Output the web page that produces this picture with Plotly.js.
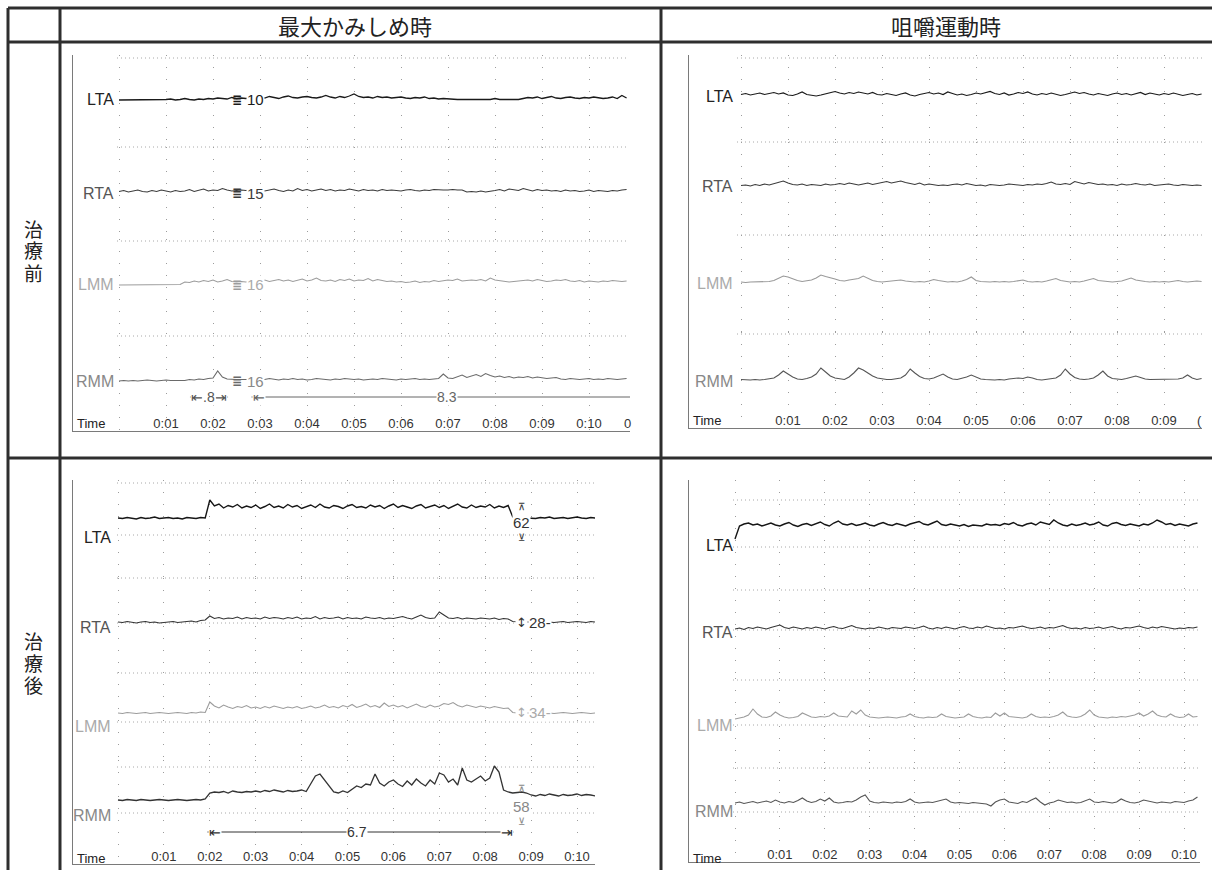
<!DOCTYPE html>
<html><head><meta charset="utf-8">
<script src="https://cdn.plot.ly/plotly-3.0.1.min.js"></script>
<style>html,body{margin:0;padding:0;background:#fff;}#chart{width:1212px;height:870px;}</style>
</head><body><div id="chart"></div>
<script>
// ================= DATA =================
const COLUMN_TITLES = ['最大かみしめ時', '咀嚼運動時'];
const ROW_TITLES = ['治療前', '治療後'];
const CHANNELS = ['LTA', 'RTA', 'LMM', 'RMM'];
const TICK_VALUES = [0, 1, 2, 3, 4, 5, 6, 7, 8, 9, 10];
const TICK_LABELS = ['', '0:01', '0:02', '0:03', '0:04', '0:05', '0:06', '0:07', '0:08', '0:09', '0:10'];
const SAMPLE_STEP = 0.1; // seconds between samples

// 最大かみしめ時・治療前 (µV)
const CLENCH_BEFORE_LTA = [0,0,0,0,0,0,0,0,0,0, 1,2,0,1,3,1,0,2,1,3,2,4,3,2,5, 3,4,3,4,3,
  6,4,7,5,3,6,8,5,4,6,7,5,4,6,9,6,4,7,5,8,12,7,5,6,4,7,5,6,4,5,6,4,3,5,4,6,3,4,2,3,2,
  1,1,1,1,1,1,1, 2,1,3,1,1,1,2,1, 3,5,4,6,3,5,7,4,3,5,6,4,3,5,4,6,5,3,4,6,3,9,4];
const CLENCH_BEFORE_RTA = [3,5,2,4,6,3,2,5,3,6,4,2,5,3,4,7,3,5,8,4,6,5,9,6,4, 5,6,5,6,5,
  7,4,6,8,5,3,6,4,9,5,7,4,6,8,5,7,4,6,5,8,6,4,7,5,6,4,7,5,6,5,4,6,7,5,4,6,5,7,6,
  6,6,7,6,6, 2,3,2,4,2,3, 5,7,4,8,6,5,9,6,4,7,5,6,4,5,3,6,4,5,3,4,6,3,5,4,3,5,4,6,7];
const CLENCH_BEFORE_LMM = [0,0,0,0,0,0,0,0,0,0,0,1,0,1, 6,5,8,6,9,7,10,6,8,11,7, 6,7,6,7,6,
  8,10,7,9,11,8,10,7,9,12, 8,10,14,9,8,10,7,11,9,12, 8,10,9,13,8,11,9,7,8,6, 7,5,6,8,5,7,6,9,7,8,
  10,9,12,8,9,10,9,11,8,14, 10,9,8,6,7,8,9,10,8,11, 9,7,8,10,9,11,8,7,9,6, 8,7,6,8,7,9,8,7,8];
const CLENCH_BEFORE_RMM = [0,1,0,1,0,1,2,1,0,1,2,1,1,2,1, 3,2,4,3,5,6,20,8,4,3, 3,3,3,3,3,
  4,3,5,4,2,4,3,5,3,4,2,3,5,4,3,2,4,3,5,4,3,4,2,3,4,3,5,4,3,2,4,3,4,5,3,4,3,4,5,
  14,6,5,8,12,7,10,13,9,15,11,8,10,7,9, 6,8,7,9,6,8,7,5,6,7, 4,3,5,4,3,4,5,3,4,3,5,4,3,4,5];

// 咀嚼運動時・治療前 (µV)
const CHEW_BEFORE_LTA = [5,7,4,6,8,5,7,9,6,8, 4,3,6,10,5,3,2,4,6,9, 11,8,6,9,7,10,8,6,9,5, 4,7,5,3,6,8,4,2,5,7,
  9,6,8,5,10,7,4,6,3,5, 8,6,9,11,7,5,8,4,6,9, 7,10,6,4,7,5,8,6,3,5, 8,10,7,9,6,4,7,5,3,6,
  8,5,7,4,6,9,5,8,6,4, 7,5,8,6,3,5,7,4,6];
const CHEW_BEFORE_RTA = [3,4,2,5,3,6,4,7,9,12, 8,5,4,6,3,5,4,3,6,4, 5,7,5,8,6,4,6,8,5,7, 9,11,8,10,12,9,7,5,8,4,
  6,5,3,4,3,5,6,4,7,5, 3,4,2,5,4,3,4,6,5,4, 3,5,4,6,5,7,10,6,5,7, 5,11,8,6,9,7,5,6,4,5,
  3,6,4,5,7,5,4,6,3,4, 5,6,4,3,5,4,3,4,3];
const CHEW_BEFORE_LMM = [2,1,2,2,3,2,3,5,9,14, 12,8,5,3,4,6,10,16,13,11, 8,5,4,6,7,9,14,10,5,3, 2,3,4,5,6,4,3,2,3,2,
  4,7,5,3,2,3,2,4,7,12, 5,3,2,2,3,2,3,2,3,4, 6,3,2,3,2,4,6,9,5,3, 2,3,2,4,6,9,5,4,3,2,
  3,4,7,10,6,4,3,2,3,2, 3,2,4,5,3,2,3,4,3];
const CHEW_BEFORE_RMM = [3,2,2,3,2,3,4,6,12,20, 14,8,4,3,5,8,14,26,18,10, 6,4,3,8,16,26,22,16,10,6, 4,3,3,4,6,12,24,16,9,5,
  4,6,10,14,8,4,3,5,8,12, 8,4,3,2,2,3,2,4,5,6, 5,8,6,3,2,3,4,6,12,24, 14,7,4,3,4,6,12,20,10,5,
  4,3,5,7,10,7,4,3,3,4, 3,4,3,4,6,12,6,3,5];

// 最大かみしめ時・治療後 (µV)
const CLENCH_AFTER_LTA = [38,37,39,38,36,39,37,38,40,37, 38,39,37,38,36,39,38,37,39,38, 74,62,66,58,63,60,65,58,62,59,
  64,57,61,66,59,62,58,65,60,63, 57,61,64,59,66,60,58,63,61,57, 62,65,59,61,58,64,60,63,57,62,
  66,59,63,60,57,62,65,58,61,64, 59,63,57,61,66,60,58,64,59,62, 60,65,58,62,59,63,40,38,39,38,
  38,37,39,38,40,37,38,39,37,38, 40,38,37,39,38];
const CLENCH_AFTER_RTA = [10,9,11,10,8,10,11,9,10,8, 9,10,11,9,10,11,12,10,13,14, 22,17,19,16,18,17,20,16,19,17,
  18,16,20,17,19,18,16,19,17,20, 16,18,17,21,16,19,17,18,20,16, 19,17,18,16,20,18,17,19,16,18,
  17,19,21,18,16,20,24,19,17,18, 30,24,18,17,19,16,18,17,16,18, 17,16,18,15,17,16,11,10,10,10,
  10,10,10,11,10,9,10,11,9,10, 11,10,9,11,10];
const CLENCH_AFTER_LMM = [26,25,27,26,25,26,27,25,26,27, 26,25,26,27,26,25,27,26,28,27, 48,40,36,42,38,35,39,37,41,36,
  38,35,39,36,40,37,35,38,36,39, 35,37,40,36,38,42,37,39,36,41, 38,43,37,40,44,38,41,37,46,39,
  42,38,41,36,40,44,39,37,42,38, 40,45,43,47,41,38,42,39,37,40, 38,36,39,37,35,36,27,26,26,26,
  26,26,26,27,26,25,26,27,26,25, 26,27,26,25,26];
const CLENCH_AFTER_RMM = [30,29,31,30,29,31,30,29,30,31, 30,29,30,31,30,29,30,31,30,32, 44,46,45,47,44,48,46,45,47,46,
  48,46,49,47,50,48,46,49,47,48, 50,47,62,78,82,70,56,46,44,48, 45,52,58,55,62,60,82,64,58,66,
  70,62,57,68,60,72,64,58,70,62, 84,80,66,72,60,94,70,66,72,78, 68,74,98,86,50,46,44,45,46,44,
  40,38,41,39,42,40,38,41,39,40, 42,39,41,40,38];

// 咀嚼運動時・治療後 (µV)
const CHEW_AFTER_LTA = [12,38,42,44,40,42,38,41,44,40, 38,42,45,40,37,41,43,39,42,46, 41,38,44,48,42,40,43,39,41,44,
  40,38,42,45,41,39,43,40,38,42, 44,47,42,40,44,48,41,39,42,40, 38,41,37,40,39,38,42,40,41,39,
  43,41,45,40,38,42,44,40,46,43, 41,50,44,40,38,42,39,41,44,40, 42,46,40,38,43,45,41,39,42,40,
  38,42,40,44,50,46,41,43,39,42, 40,38,42,44];
const CHEW_AFTER_RTA = [6,8,5,9,7,10,8,6,9,12, 14,9,7,10,8,6,9,7,10,8, 6,9,11,8,7,10,13,9,8,6, 8,7,10,8,6,9,8,7,10,8,
  7,9,12,8,6,9,7,10,8,6, 9,11,8,7,10,8,12,9,7,8, 6,9,8,10,12,9,7,8,10,7, 9,8,11,13,9,7,8,6,9,7,
  8,10,7,9,11,8,6,9,8,10, 12,9,7,10,8,11,9,7,6,8, 7,9,8,10];
const CHEW_AFTER_LMM = [12,14,16,20,32,22,16,15,18,26, 20,16,14,15,17,24,20,16,15,17, 16,18,24,18,17,16,28,22,30,20,
  16,15,14,15,16,15,14,16,17,22, 17,15,14,16,15,16,22,17,15,14, 15,16,22,17,15,14,16,15,24,18,
  24,17,16,15,14,16,22,17,15,16, 15,17,20,26,18,16,15,17,22,30, 20,16,15,14,16,15,17,16,18,20,
  24,18,22,28,20,17,16,22,17,15, 16,22,16,17];
const CHEW_AFTER_RMM = [16,18,15,17,19,16,18,20,17,22, 18,16,19,17,21,26,20,17,19,24, 20,26,18,16,17,19,18,22,28,32,
  20,17,16,18,17,16,18,17,19,24, 18,16,17,18,17,19,22,24,18,16, 17,16,15,17,16,15,14,10,18,22,
  24,18,17,15,19,17,22,26,18,12, 16,18,22,19,17,18,16,17,20,24, 18,17,19,17,16,18,24,20,17,16,
  18,22,20,17,16,18,17,16,19,18, 17,20,22,28];

// numeric annotations
const CLENCH_BEFORE_MEAN = ['10', '15', '16', '16'];
const CLENCH_AFTER_MEAN = ['62', '28', '34', '58'];
const BEFORE_SHORT_INTERVAL = [1.51, 2.32];   // ".8"
const BEFORE_LONG_INTERVAL_START = 2.82;      // "8.3"
const AFTER_INTERVAL = [1.95, 8.62];          // "6.7"

// ================= LAYOUT GEOMETRY (pixels) =================
const W = 1212, H = 870, UV_PER_PX = 2;
const px = v => v / W, py = v => 1 - v / H;
const DARK = '#222', FONT = 'Liberation Sans, Arial, sans-serif', CJK = 'Noto Sans CJK JP, sans-serif';
const NARROW = 'Liberation Sans Narrow, Liberation Sans, Arial, sans-serif';

const PANELS = [
  { series: [CLENCH_BEFORE_LTA, CLENCH_BEFORE_RTA, CLENCH_BEFORE_LMM, CLENCH_BEFORE_RMM],
    x0: 73, x1: 630, t0: 119, pps: 47, edges: [55, 147, 239, 333, 431], zeros: [100, 193, 285, 381],
    labelRight: 116, timeY: 423, dots: [58, 147, 241, 336], dotX: [117, 628],
    colors: ['#1a1a1a', '#3a3a3a', '#9c9c9c', '#6a6a6a'], widths: [1.3, 1.1, 1.1, 1.1] },
  { series: [CHEW_BEFORE_LTA, CHEW_BEFORE_RTA, CHEW_BEFORE_LMM, CHEW_BEFORE_RMM],
    x0: 689, x1: 1202, t0: 741, pps: 47, edges: [55, 142, 235, 332, 428], zeros: [97, 187, 283, 381],
    labelRight: 735, timeY: 420, dots: [58, 142, 235, 334], dotX: [737, 1202],
    colors: ['#1a1a1a', '#3a3a3a', '#999999', '#555555'], widths: [1.2, 1.1, 1.1, 1.1] },
  { series: [CLENCH_AFTER_LTA, CLENCH_AFTER_RTA, CLENCH_AFTER_LMM, CLENCH_AFTER_RMM],
    x0: 73, x1: 595, t0: 118, pps: 45.9, edges: [480, 578, 672, 760, 864], zeros: [537, 627, 726, 815],
    labelRight: 113, timeY: 858, dots: [483, 535, 578, 623, 673, 722, 767, 813], dotX: [117, 595],
    colors: ['#161616', '#333333', '#9c9c9c', '#333333'], widths: [1.4, 1.1, 1.1, 1.3] },
  { series: [CHEW_AFTER_LTA, CHEW_AFTER_RTA, CHEW_AFTER_LMM, CHEW_AFTER_RMM],
    x0: 689, x1: 1200, t0: 735, pps: 44.9, edges: [480, 588, 678, 768, 862], zeros: [545, 632, 725, 811],
    labelRight: 735, timeY: 858, dots: [500, 547, 590, 630, 680, 725, 768, 812], dotX: [733, 1200],
    colors: ['#161616', '#333333', '#9c9c9c', '#555555'], widths: [1.4, 1.1, 1.1, 1.1] }
];
const LABEL_COLORS = ['#222', '#555', '#aaa', '#888'];

const axId = (kind, n) => n === 1 ? kind : kind + n;
const axKey = (kind, n) => (kind === 'x' ? 'xaxis' : 'yaxis') + (n === 1 ? '' : n);

const traces = [];
const layout = {
  width: W, height: H, margin: { l: 0, r: 0, t: 0, b: 0 },
  paper_bgcolor: '#fff', plot_bgcolor: 'rgba(0,0,0,0)',
  font: { family: FONT, color: DARK }, showlegend: false,
  shapes: [], annotations: []
};

PANELS.forEach((p, pi) => {
  const xn = pi + 1, xa = axId('x', xn);
  const rmmY = pi * 4 + 4;
  p.series.forEach((vals, ci) => {
    const yn = pi * 4 + ci + 1, ya = axId('y', yn);
    traces.push({
      type: 'scatter', mode: 'lines', xaxis: xa, yaxis: ya,
      x: vals.map((_, i) => +(i * SAMPLE_STEP).toFixed(2)), y: vals,
      line: { color: p.colors[ci], width: p.widths[ci], shape: 'linear' },
      hoverinfo: 'skip', showlegend: false
    });
    layout[axKey('y', yn)] = {
      domain: [py(p.edges[ci + 1]), py(p.edges[ci])],
      range: [-(p.edges[ci + 1] - p.zeros[ci]) * UV_PER_PX, (p.zeros[ci] - p.edges[ci]) * UV_PER_PX],
      anchor: xa, showgrid: false, zeroline: false, showticklabels: false, ticks: '',
      showline: true, linecolor: '#7a7a7a', linewidth: 1.5, fixedrange: true
    };
    layout.annotations.push({
      xref: 'paper', yref: ya, x: px(p.labelRight), y: 0, xanchor: 'right', yanchor: 'middle',
      text: CHANNELS[ci], showarrow: false, font: { size: 16, color: LABEL_COLORS[ci], family: FONT }
    });
  });
  layout[axKey('x', xn)] = {
    domain: [px(p.x0), px(p.x1)], range: [(p.x0 - p.t0) / p.pps, (p.x1 - p.t0) / p.pps],
    anchor: axId('y', rmmY), tickmode: 'array', tickvals: TICK_VALUES, ticktext: TICK_LABELS,
    ticklabelposition: 'inside', ticks: '', tickfont: { size: 13, color: '#333', family: FONT },
    showgrid: true, gridcolor: '#9c9c9c', gridwidth: 1, griddash: '1px,11px',
    zeroline: false, showline: true, linecolor: '#7a7a7a', linewidth: 1, fixedrange: true
  };
  p.dots.forEach(y => layout.shapes.push({
    type: 'line', xref: 'paper', yref: 'paper', x0: px(p.dotX[0]), x1: px(p.dotX[1]), y0: py(y), y1: py(y),
    line: { color: '#a8a8a8', width: 1, dash: '1px,3px' }, layer: 'below'
  }));
  layout.annotations.push({
    xref: 'paper', yref: 'paper', x: px(p.x0 + 2), y: py(p.timeY), xanchor: 'left', yanchor: 'middle',
    text: 'Time', showarrow: false, font: { size: 13, color: '#222', family: FONT }
  });
});

// table frame
const LINE = { color: '#2e2e2e', width: 3 };
[[8, 8, 1212, 8], [8, 42, 1212, 42], [8, 458, 1212, 458],
 [8, 8, 8, 870], [60, 8, 60, 870], [661, 8, 661, 870]].forEach(([a, b, c, d]) =>
  layout.shapes.push({ type: 'line', xref: 'paper', yref: 'paper', x0: px(a), y0: py(b), x1: px(c), y1: py(d), line: LINE }));

// column headers
[[355, COLUMN_TITLES[0]], [946, COLUMN_TITLES[1]]].forEach(([x, t]) => layout.annotations.push({
  xref: 'paper', yref: 'paper', x: px(x), y: py(25), xanchor: 'center', yanchor: 'middle', text: t, showarrow: false,
  font: { size: 22, family: CJK, color: '#222' }
}));
// row titles, one character per line
[[228, ROW_TITLES[0]], [640, ROW_TITLES[1]]].forEach(([y, t]) => t.split('').forEach((ch, k) =>
  layout.annotations.push({
    xref: 'paper', yref: 'paper', x: px(33), y: py(y + k * 22), xanchor: 'center', yanchor: 'middle', text: ch, showarrow: false,
    font: { size: 19, family: CJK, color: '#222' }
  })));

// clipped tick remnants at right edges
layout.annotations.push({ xref: 'paper', yref: 'paper', x: px(627), y: py(423), xanchor: 'center', yanchor: 'middle', text: '0', showarrow: false, font: { size: 13, color: '#333' } });
layout.annotations.push({ xref: 'paper', yref: 'paper', x: px(1199), y: py(420), xanchor: 'center', yanchor: 'middle', text: '(', showarrow: false, font: { size: 13, color: '#333' } });

// ---- 治療前・最大かみしめ時: mean markers ----
PANELS[0].colors.forEach((c, ci) => {
  const ya = axId('y', ci + 1);
  layout.annotations.push({ xref: 'x', yref: ya, x: 2.5, y: 0, text: '<b>≣</b>', showarrow: false,
    font: { size: 12, color: c, family: 'DejaVu Sans' } });
  layout.annotations.push({ xref: 'x', yref: ya, x: 2.9, y: 0, text: CLENCH_BEFORE_MEAN[ci], showarrow: false,
    bgcolor: '#fff', borderpad: 0, font: { size: 15, color: ci >= 2 ? LABEL_COLORS[ci] : c, family: NARROW } });
});

// ---- interval brackets ----
function bracket(xa, ya, tA, tB, y, label, tLabel, color, closeRight) {
  layout.shapes.push({ type: 'line', xref: xa, yref: ya, x0: tA, x1: tB, y0: y, y1: y, line: { color: color, width: 1 } });
  layout.annotations.push({ xref: xa, yref: ya, x: tA, y: y, xanchor: 'left', text: '⇤', showarrow: false,
    bgcolor: '#fff', borderpad: 0, font: { size: 14, color: color, family: 'DejaVu Sans' } });
  if (closeRight) layout.annotations.push({ xref: xa, yref: ya, x: tB, y: y, xanchor: 'right', text: '⇥', showarrow: false,
    bgcolor: '#fff', borderpad: 0, font: { size: 14, color: color, family: 'DejaVu Sans' } });
  layout.annotations.push({ xref: xa, yref: ya, x: tLabel, y: y, text: label, showarrow: false,
    bgcolor: '#fff', borderpad: 0, font: { size: 14, color: color, family: FONT } });
}
bracket('x', 'y4', BEFORE_SHORT_INTERVAL[0], BEFORE_SHORT_INTERVAL[1], -32, '.8',
  (BEFORE_SHORT_INTERVAL[0] + BEFORE_SHORT_INTERVAL[1]) / 2, '#555', true);
bracket('x', 'y4', BEFORE_LONG_INTERVAL_START, 10.88, -32, '8.3', 6.98, '#666', false);
bracket('x3', 'y12', AFTER_INTERVAL[0], AFTER_INTERVAL[1], -34, '6.7', 5.2, '#333', true);

// ---- 治療後・最大かみしめ時: mean markers ----
const AFTER_MARK_T = 8.78;
[[0, 61, 30, 0, '#333'], [3, 53, 18, -12, '#888']].forEach(([ci, top, mid, bot, col]) => {
  const ya = axId('y', 9 + ci);
  layout.annotations.push({ xref: 'x3', yref: ya, x: AFTER_MARK_T, y: top, text: '⊼', showarrow: false, font: { size: 10, color: col, family: 'DejaVu Sans' } });
  layout.annotations.push({ xref: 'x3', yref: ya, x: AFTER_MARK_T, y: mid, text: CLENCH_AFTER_MEAN[ci], showarrow: false, bgcolor: '#fff', borderpad: 0,
    font: { size: 15, color: col, family: NARROW } });
  layout.annotations.push({ xref: 'x3', yref: ya, x: AFTER_MARK_T, y: bot, text: '⊻', showarrow: false, font: { size: 10, color: col, family: 'DejaVu Sans' } });
});
[[1, 10, '#333'], [2, 28, '#aaa']].forEach(([ci, y, col]) => {
  const ya = axId('y', 9 + ci);
  layout.annotations.push({ xref: 'x3', yref: ya, x: AFTER_MARK_T, y: y, text: '↕', showarrow: false, bgcolor: '#fff', borderpad: 0,
    font: { size: 13, color: col, family: 'DejaVu Sans' } });
  layout.annotations.push({ xref: 'x3', yref: ya, x: AFTER_MARK_T + 0.16, y: y, xanchor: 'left', text: CLENCH_AFTER_MEAN[ci] + '-', showarrow: false,
    bgcolor: '#fff', borderpad: 0, font: { size: 15, color: col, family: NARROW } });
});

Plotly.newPlot('chart', traces, layout, { staticPlot: true, displayModeBar: false });
</script>
</body></html>
